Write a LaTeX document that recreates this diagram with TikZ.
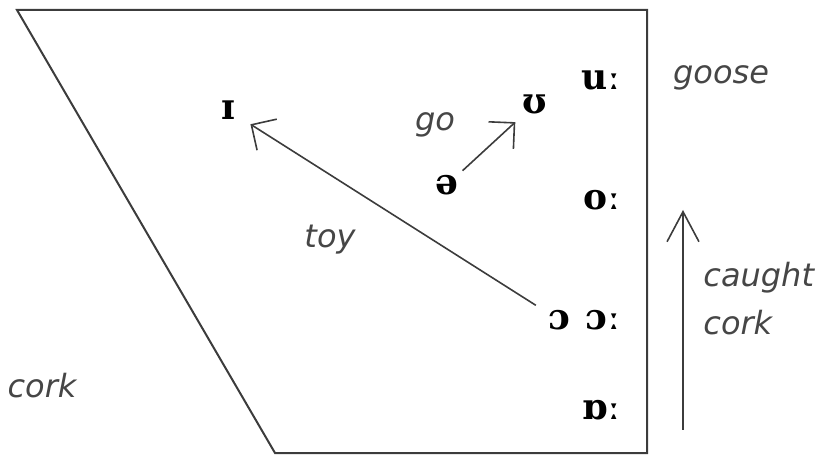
\documentclass[tikz,border=0pt]{standalone}
\usepackage{fontspec}
\usepackage{tikz}
\usetikzlibrary{arrows.meta,positioning}
\newfontfamily\ipafont{DejaVu Serif}
\newfontfamily\wordfont{DejaVu Sans}
\definecolor{linegray}{RGB}{60,60,60}
\definecolor{wordgray}{RGB}{70,70,70}

\begin{document}
\begin{tikzpicture}[x=0.5pt, y=-0.5pt,
  sound/.style={inner sep=0pt, font=\ipafont\bfseries\fontsize{18}{20}\selectfont},
  word/.style={inner sep=0pt, text=wordgray, font=\wordfont\itshape\fontsize{16}{24}\selectfont},
  glide/.style={linegray, line width=0.8pt, -{Straight Barb[angle=90:13pt, line width=0.8pt]}}]
  \useasboundingbox (0,0) rectangle (834,458);
  % vowel space
  \draw[linegray, line width=1pt, line join=miter] (17,10) -- (647,10) -- (647,453) -- (275,453) -- cycle;
  % sounds
  \node[sound] (ih) at (228,110) {ɪ};
  \node[sound] (uh) at (535,104) {ʊ};
  \node[sound] (schwa) at (447,185) {ə};
  \node[sound] (uu) at (601,80) {uː};
  \node[sound] (oo) at (602,200) {oː};
  \node[sound] (aw) at (559,320) {ɔ};
  \node[sound] (aww) at (603,320) {ɔː};
  \node[sound] (ah) at (602,410) {ɒː};
  % words
  \node[word] (go) at (435,125) {go};
  \node[word] (toy) at (330,240) {toy};
  \node[word] (goose) at (721,78) {goose};
  \node[word,align=left,anchor=north west] (caught) at (703,262) {caught\\cork};
  \node[word] (cork) at (42,386) {cork};
  % glides
  \draw[glide, shorten <=7pt, shorten >=9pt] (aw) -- (ih);
  \draw[glide, shorten <=3pt, shorten >=6pt] (schwa) -- (uh);
  \coordinate (lift0) at (683,430);
  \coordinate (lift1) at (683,210);
  \draw[linegray, line width=0.8pt, -{Straight Barb[angle=56:17pt, line width=0.8pt]}] (lift0) -- (lift1);
\end{tikzpicture}
\end{document}
